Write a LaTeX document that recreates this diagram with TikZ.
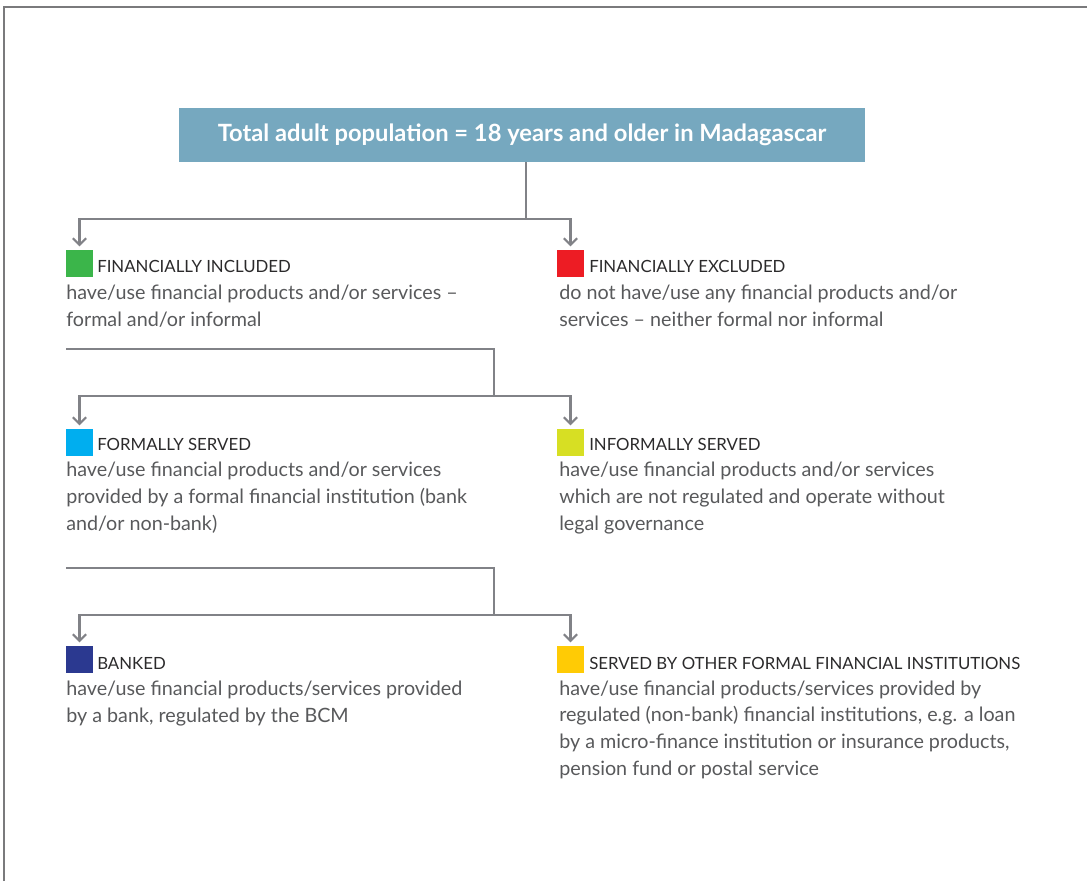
\documentclass[tikz,border=0pt]{standalone}
\usepackage{fontspec}
\setmainfont{Lato}
\usetikzlibrary{arrows.meta,positioning}
\definecolor{framegray}{HTML}{7A7A7C}
\definecolor{linegray}{HTML}{818287}
\definecolor{boxblue}{HTML}{76A8BF}
\definecolor{titlegray}{HTML}{2B2A2B}
\definecolor{descgray}{HTML}{58595B}
\definecolor{incgreen}{HTML}{3BB54A}
\definecolor{excred}{HTML}{ED1C24}
\definecolor{formcyan}{HTML}{00AEEF}
\definecolor{infyellow}{HTML}{D7DF23}
\definecolor{banknavy}{HTML}{2B3990}
\definecolor{othergold}{HTML}{FFCB05}
\begin{document}
\begin{tikzpicture}[x=0.75pt, y=-0.75pt,
    sq/.style={minimum width=20.25pt, minimum height=20.25pt, inner sep=0pt},
    cat/.style={anchor=base west, inner sep=0pt, text=titlegray, font=\fontsize{12.6}{15}\selectfont},
    desc/.style={anchor=base west, inner sep=0pt, align=left, text=descgray, font=\fontsize{14.8}{20}\selectfont},
    conn/.style={draw=linegray, line width=1.9pt},
    arr/.style={conn, -{Straight Barb[length=5pt, width=10pt, line width=1.6pt]}, shorten >=2.5pt}]
\useasboundingbox (0,0) rectangle (1087,881);
% frame
\draw[framegray, line width=1.6pt] (4,881) -- (4,7) -- (1087,7);
% top box
\node[fill=boxblue, minimum width=514.5pt, minimum height=40.5pt, text=white, font=\bfseries\fontsize{17.8}{20}\selectfont] (total) at (522,135) {Total adult population = 18 years and older in Madagascar};
% level 1 (desc nodes sit on their last baseline)
\node[sq, fill=incgreen] (incsq) at (79.5,263.5) {};
\node[cat] (inctitle) at (97,272) {FINANCIALLY INCLUDED};
\node[desc] (incdesc) at (66,326) {have/use financial products and/or services --\\formal and/or informal};
\node[sq, fill=excred] (excsq) at (570.5,263.5) {};
\node[cat] (exctitle) at (589,272) {FINANCIALLY EXCLUDED};
\node[desc] (excdesc) at (559,326) {do not have/use any financial products and/or\\services -- neither formal nor informal};
% level 2
\node[sq, fill=formcyan] (formsq) at (79.5,442.5) {};
\node[cat] (formtitle) at (97,450) {FORMALLY SERVED};
\node[desc] (formdesc) at (66,530) {have/use financial products and/or services\\provided by a formal financial institution (bank\\and/or non-bank)};
\node[sq, fill=infyellow] (infsq) at (570.5,442.5) {};
\node[cat] (inftitle) at (589,450) {INFORMALLY SERVED};
\node[desc] (infdesc) at (559,530) {have/use financial products and/or services\\which are not regulated and operate without\\legal governance};
% level 3
\node[sq, fill=banknavy] (banksq) at (79.5,659.5) {};
\node[cat] (banktitle) at (97,669) {BANKED};
\node[desc] (bankdesc) at (66,722) {have/use financial products/services provided\\by a bank, regulated by the BCM};
\node[sq, fill=othergold] (othersq) at (570.5,659.5) {};
\node[cat] (othertitle) at (589,669) {SERVED BY OTHER FORMAL FINANCIAL INSTITUTIONS};
\node[desc] (otherdesc) at (559,775) {have/use financial products/services provided by\\regulated (non-bank) financial institutions, e.g. a loan\\by a micro-finance institution or insurance products,\\pension fund or postal service};
% connectors
\coordinate (split1) at (526,219);
\coordinate (incbar) at (66,349);
\coordinate (split2) at (494,396);
\coordinate (formbar) at (66,568);
\coordinate (split3) at (494,615);
\draw[conn] (total.south -| split1) -- (split1);
\draw[arr] (split1) -| (incsq.north);
\draw[arr] (split1) -| (excsq.north);
\draw[conn] (incbar) -| (split2);
\draw[arr] (split2) -| (formsq.north);
\draw[arr] (split2) -| (infsq.north);
\draw[conn] (formbar) -| (split3);
\draw[arr] (split3) -| (banksq.north);
\draw[arr] (split3) -| (othersq.north);
\end{tikzpicture}
\end{document}
